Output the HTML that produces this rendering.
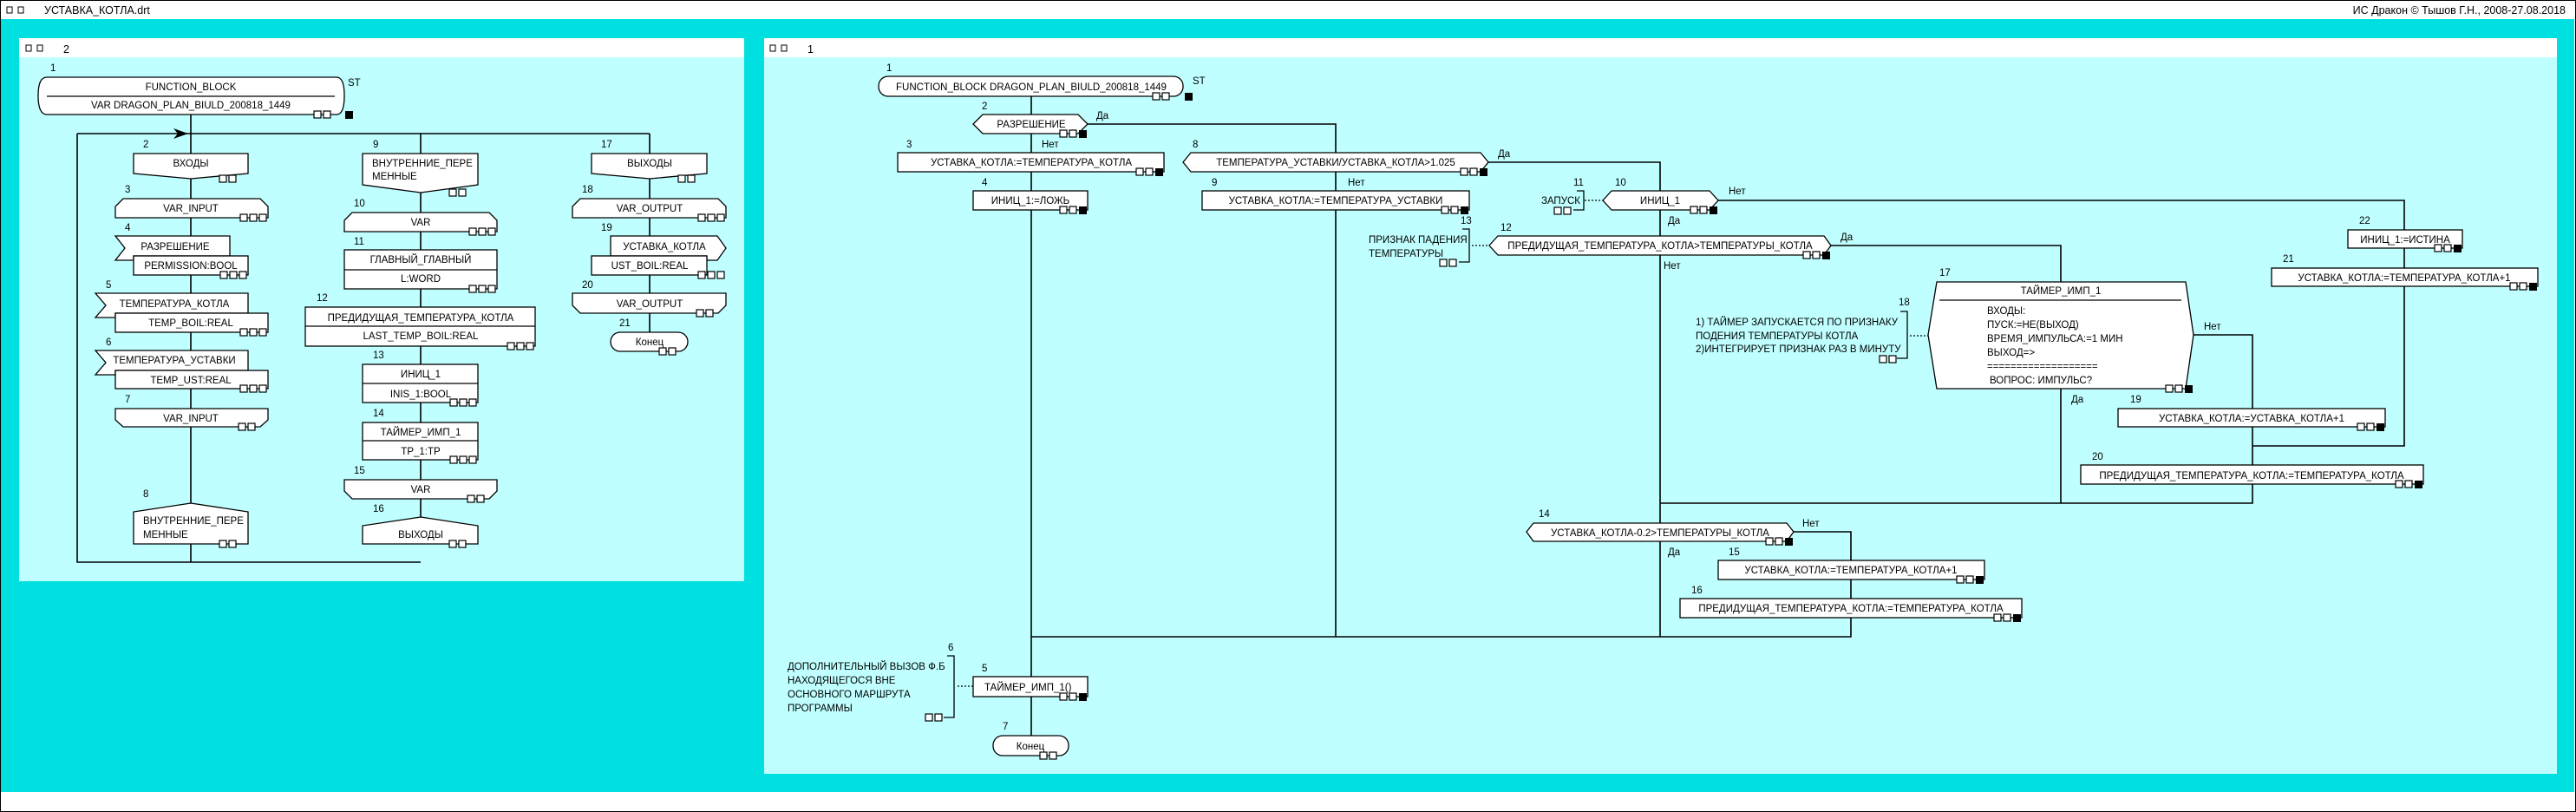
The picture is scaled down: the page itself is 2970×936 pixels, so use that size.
<!DOCTYPE html>
<html><head><meta charset="utf-8"><style>
html,body{margin:0;padding:0;background:#fff}
svg{display:block}
text{font-family:"Liberation Sans","DejaVu Sans",sans-serif;font-size:11.5px;fill:#000}
.t{font-size:12.5px}
.c{text-anchor:middle}
.s{fill:#fff;stroke:#000;stroke-width:1.3}
.l{fill:none;stroke:#000;stroke-width:1.6}
.d{fill:none;stroke:#000;stroke-width:1.3;stroke-dasharray:2 2}
</style></head><body>
<svg width="2970" height="936" viewBox="0 0 2970 936" xmlns="http://www.w3.org/2000/svg">
<defs>
<g id="q3"><rect x="-33" y="-4" width="8" height="8" fill="#fff" stroke="#000" stroke-width="1.2"/><rect x="-22" y="-4" width="8" height="8" fill="#fff" stroke="#000" stroke-width="1.2"/><rect x="-11" y="-4" width="9" height="9" fill="#000"/></g>
<g id="q2"><rect x="-23" y="-4" width="8" height="8" fill="#fff" stroke="#000" stroke-width="1.2"/><rect x="-12" y="-4" width="8" height="8" fill="#fff" stroke="#000" stroke-width="1.2"/></g>
<g id="w3"><rect x="-33" y="-4" width="8" height="8" fill="#fff" stroke="#000" stroke-width="1.2"/><rect x="-22" y="-4" width="8" height="8" fill="#fff" stroke="#000" stroke-width="1.2"/><rect x="-11" y="-4" width="8" height="8" fill="#fff" stroke="#000" stroke-width="1.2"/></g>
</defs>
<rect x="0" y="0" width="2970" height="936" fill="#fff"/>
<rect x="1" y="22" width="2967" height="891" fill="#00E0E0"/>
<rect x="0.5" y="0.5" width="2969" height="935" fill="none" stroke="#000"/>
<rect x="8" y="8" width="6" height="7" fill="none" stroke="#000"/><rect x="21" y="8" width="6" height="7" fill="none" stroke="#000"/>
<text class="t" x="51" y="16">УСТАВКА_КОТЛА.drt</text>
<text class="t" x="2958" y="16" style="text-anchor:end">ИС Дракон © Тышов Г.Н., 2008-27.08.2018</text>

<!-- LEFT PANEL -->
<rect x="22" y="44" width="836" height="626" fill="#C0FFFF"/>
<rect x="22" y="44" width="836" height="22" fill="#fff"/>
<rect x="30" y="52" width="6" height="7" fill="none" stroke="#000"/><rect x="43" y="52" width="6" height="7" fill="none" stroke="#000"/>
<text class="t" x="73" y="61">2</text>

<path class="l" d="M220 132V648M485 154V627M749 154V405M89 154H749M89 154V648H485"/>
<path d="M200 148L217 154L200 160L205 154Z" fill="#000"/>

<text x="58" y="82">1</text>
<path class="s" d="M54 89H388Q397 89 397 110Q397 132 388 132H54Q44 132 44 110Q44 89 54 89Z"/>
<path class="l" d="M54 111H386" style="stroke-width:1.2"/>
<text class="c" x="220" y="104">FUNCTION_BLOCK</text>
<text class="c" x="220" y="125">VAR DRAGON_PLAN_BIULD_200818_1449</text>
<text x="401" y="99">ST</text>
<use href="#q2" x="385" y="132"/><rect x="398" y="128" width="9" height="9" fill="#000"/>

<text x="165" y="170">2</text>
<path class="s" d="M154 177H286V200L220 206L154 200Z"/><text class="c" x="220" y="192">ВХОДЫ</text><use href="#q2" x="276" y="206"/>
<text x="144" y="222">3</text>
<path class="s" d="M142 229H300L309 238V251H133V238Z"/><text class="c" x="220" y="244">VAR_INPUT</text><use href="#w3" x="310" y="251"/>
<text x="144" y="266">4</text>
<path class="s" d="M133 272H265V295H154V300H133L144 286Z"/><rect class="s" x="154" y="295" width="132" height="22"/>
<text class="c" x="202" y="288">РАЗРЕШЕНИЕ</text><text class="c" x="220" y="310">PERMISSION:BOOL</text><use href="#w3" x="287" y="317"/>
<text x="122" y="332">5</text>
<path class="s" d="M110 338H286V361H133V366H110L122 352Z"/><rect class="s" x="133" y="361" width="176" height="22"/>
<text class="c" x="201" y="354">ТЕМПЕРАТУРА_КОТЛА</text><text class="c" x="220" y="376">TEMP_BOIL:REAL</text><use href="#w3" x="310" y="383"/>
<text x="122" y="398">6</text>
<path class="s" d="M110 404H286V427H133V432H110L122 418Z"/><rect class="s" x="133" y="427" width="176" height="21"/>
<text class="c" x="201" y="419">ТЕМПЕРАТУРА_УСТАВКИ</text><text class="c" x="220" y="442">TEMP_UST:REAL</text><use href="#w3" x="310" y="448"/>
<text x="144" y="464">7</text>
<path class="s" d="M133 471H309V484L300 492H142L133 484Z"/><text class="c" x="220" y="486">VAR_INPUT</text><use href="#q2" x="298" y="492"/>
<text x="165" y="573">8</text>
<path class="s" d="M220 580L286 590V627H154V590Z"/><text x="165" y="604">ВНУТРЕННИЕ_ПЕРЕ</text><text x="165" y="620">МЕННЫЕ</text><use href="#q2" x="276" y="627"/>

<text x="430" y="170">9</text>
<path class="s" d="M418 177H551V213L485 222L418 213Z"/><text x="429" y="192">ВНУТРЕННИЕ_ПЕРЕ</text><text x="429" y="207">МЕННЫЕ</text><use href="#q2" x="541" y="222"/>
<text x="408" y="238">10</text>
<path class="s" d="M406 245H564L573 254V267H397V254Z"/><text class="c" x="485" y="260">VAR</text><use href="#w3" x="574" y="267"/>
<text x="408" y="282">11</text>
<rect class="s" x="397" y="288" width="176" height="45"/><path class="l" d="M397 311H573" style="stroke-width:1.2"/>
<text class="c" x="485" y="303">ГЛАВНЫЙ_ГЛАВНЫЙ</text><text class="c" x="485" y="325">L:WORD</text><use href="#w3" x="574" y="333"/>
<text x="365" y="347">12</text>
<rect class="s" x="352" y="354" width="265" height="45"/><path class="l" d="M352 376H617" style="stroke-width:1.2"/>
<text class="c" x="485" y="370">ПРЕДИДУЩАЯ_ТЕМПЕРАТУРА_КОТЛА</text><text class="c" x="485" y="391">LAST_TEMP_BOIL:REAL</text><use href="#w3" x="618" y="399"/>
<text x="430" y="413">13</text>
<rect class="s" x="418" y="420" width="133" height="44"/><path class="l" d="M418 442H551" style="stroke-width:1.2"/>
<text class="c" x="485" y="435">ИНИЦ_1</text><text class="c" x="485" y="458">INIS_1:BOOL</text><use href="#w3" x="552" y="464"/>
<text x="430" y="480">14</text>
<rect class="s" x="418" y="487" width="133" height="43"/><path class="l" d="M418 508H551" style="stroke-width:1.2"/>
<text class="c" x="485" y="502">ТАЙМЕР_ИМП_1</text><text class="c" x="485" y="524">TP_1:TP</text><use href="#w3" x="552" y="530"/>
<text x="408" y="546">15</text>
<path class="s" d="M397 553H573V566L564 575H406L397 566Z"/><text class="c" x="485" y="568">VAR</text><use href="#q2" x="562" y="575"/>
<text x="430" y="590">16</text>
<path class="s" d="M485 596L551 606V627H418V606Z"/><text class="c" x="485" y="620">ВЫХОДЫ</text><use href="#q2" x="541" y="627"/>

<text x="693" y="170">17</text>
<path class="s" d="M682 177H815V200L749 206L682 200Z"/><text class="c" x="749" y="192">ВЫХОДЫ</text><use href="#q2" x="805" y="206"/>
<text x="671" y="222">18</text>
<path class="s" d="M669 229H828L837 238V251H660V238Z"/><text class="c" x="749" y="244">VAR_OUTPUT</text><use href="#w3" x="838" y="251"/>
<text x="693" y="266">19</text>
<path class="s" d="M704 272H827L837 286L827 300H815V295H704Z"/><rect class="s" x="682" y="295" width="133" height="22"/>
<text class="c" x="766" y="288">УСТАВКА_КОТЛА</text><text class="c" x="749" y="310">UST_BOIL:REAL</text><use href="#w3" x="838" y="317"/>
<text x="671" y="332">20</text>
<path class="s" d="M660 338H837V352L828 361H669L660 352Z"/><text class="c" x="749" y="354">VAR_OUTPUT</text><use href="#q2" x="826" y="361"/>
<text x="714" y="376">21</text>
<rect class="s" x="704" y="383" width="89" height="22" rx="11"/><text class="c" x="749" y="398">Конец</text><use href="#q2" x="783" y="405"/>

<!-- RIGHT PANEL -->
<rect x="881" y="44" width="2067" height="848" fill="#C0FFFF"/>
<rect x="881" y="44" width="2067" height="22" fill="#fff"/>
<rect x="888" y="52" width="6" height="7" fill="none" stroke="#000"/><rect x="901" y="52" width="6" height="7" fill="none" stroke="#000"/>
<text class="t" x="931" y="61">1</text>

<path class="l" d="M1189 111V848M1254 143H1540V734M1716 187H1914V734M1981 231H2772V514H2597M2111 283H2376V580M2529 386H2597V580H1914M2068 613H2134V734H1189"/>
<path class="d" d="M1827 231H1848M1697 283H1717M2202 387H2223M1104 791H1122"/>

<text x="1022" y="82">1</text>
<rect class="s" x="1013" y="88" width="351" height="23" rx="11"/>
<text class="c" x="1189" y="104">FUNCTION_BLOCK DRAGON_PLAN_BIULD_200818_1449</text>
<text x="1375" y="97">ST</text><use href="#q2" x="1352" y="111"/><rect x="1366" y="107" width="9" height="9" fill="#000"/>

<text x="1132" y="126">2</text>
<path class="s" d="M1122 143L1133 132H1243L1254 143L1243 154H1133Z"/><text class="c" x="1189" y="147">РАЗРЕШЕНИЕ</text><use href="#q3" x="1255" y="154"/>
<text x="1264" y="137">Да</text><text x="1201" y="170">Нет</text>
<text x="1045" y="170">3</text>
<rect class="s" x="1035" y="176" width="307" height="22"/><text class="c" x="1189" y="191">УСТАВКА_КОТЛА:=ТЕМПЕРАТУРА_КОТЛА</text><use href="#q3" x="1343" y="198"/>
<text x="1132" y="214">4</text>
<rect class="s" x="1122" y="220" width="132" height="22"/><text class="c" x="1188" y="235">ИНИЦ_1:=ЛОЖЬ</text><use href="#q3" x="1255" y="242"/>

<text x="1375" y="170">8</text>
<path class="s" d="M1364 187L1373 176H1707L1716 187L1707 198H1373Z"/><text class="c" x="1540" y="191">ТЕМПЕРАТУРА_УСТАВКИ/УСТАВКА_КОТЛА&gt;1.025</text><use href="#q3" x="1717" y="198"/>
<text x="1727" y="181">Да</text><text x="1554" y="214">Нет</text>
<text x="1397" y="214">9</text>
<rect class="s" x="1386" y="220" width="308" height="22"/><text class="c" x="1540" y="235">УСТАВКА_КОТЛА:=ТЕМПЕРАТУРА_УСТАВКИ</text><use href="#q3" x="1695" y="242"/>

<text x="1814" y="214">11</text><text x="1822" y="235" style="text-anchor:end">ЗАПУСК</text>
<path class="l" d="M1818 220H1826V242H1814" style="stroke-width:1.3"/><use href="#q2" x="1815" y="243"/>
<text x="1862" y="214">10</text>
<path class="s" d="M1848 231L1858 220H1971L1981 231L1971 242H1858Z"/><text class="c" x="1914" y="235">ИНИЦ_1</text><use href="#q3" x="1982" y="242"/>
<text x="1993" y="224">Нет</text><text x="1923" y="258">Да</text>

<text x="1684" y="258">13</text>
<text x="1578" y="280">ПРИЗНАК ПАДЕНИЯ</text><text x="1578" y="296">ТЕМПЕРАТУРЫ</text>
<path class="l" d="M1686 264H1694V302H1682" style="stroke-width:1.3"/><use href="#q2" x="1683" y="303"/>
<text x="1730" y="266">12</text>
<path class="s" d="M1717 283L1727 272H2103L2111 283L2103 294H1727Z"/><text class="c" x="1914" y="287">ПРЕДИДУЩАЯ_ТЕМПЕРАТУРА_КОТЛА&gt;ТЕМПЕРАТУРЫ_КОТЛА</text><use href="#q3" x="2112" y="294"/>
<text x="2122" y="277">Да</text><text x="1918" y="310">Нет</text>

<text x="2720" y="258">22</text>
<rect class="s" x="2707" y="265" width="132" height="21"/><text class="c" x="2773" y="280">ИНИЦ_1:=ИСТИНА</text><use href="#q3" x="2840" y="286"/>
<text x="2632" y="302">21</text>
<rect class="s" x="2619" y="309" width="307" height="21"/><text class="c" x="2772" y="324">УСТАВКА_КОТЛА:=ТЕМПЕРАТУРА_КОТЛА+1</text><use href="#q3" x="2927" y="330"/>

<text x="2236" y="318">17</text>
<path class="s" d="M2233 325H2520L2529 386L2520 448H2233L2223 386Z"/>
<path class="l" d="M2236 346H2515" style="stroke-width:1.2"/>
<text class="c" x="2376" y="339">ТАЙМЕР_ИМП_1</text>
<text x="2291" y="362">ВХОДЫ:</text><text x="2291" y="378">ПУСК:=НЕ(ВЫХОД)</text><text x="2291" y="394">ВРЕМЯ_ИМПУЛЬСА:=1 МИН</text><text x="2291" y="410">ВЫХОД=&gt;</text><text x="2291" y="426">===================</text><text x="2294" y="442">ВОПРОС: ИМПУЛЬС?</text>
<use href="#q3" x="2530" y="448"/>
<text x="2541" y="380">Нет</text><text x="2388" y="464">Да</text>
<text x="2189" y="352">18</text>
<text x="1955" y="375">1) ТАЙМЕР  ЗАПУСКАЕТСЯ ПО ПРИЗНАКУ</text><text x="1955" y="391">ПОДЕНИЯ ТЕМПЕРАТУРЫ КОТЛА</text><text x="1955" y="406">2)ИНТЕГРИРУЕТ ПРИЗНАК РАЗ В МИНУТУ</text>
<path class="l" d="M2191 359H2199V413H2187" style="stroke-width:1.3"/><use href="#q2" x="2190" y="414"/>

<text x="2456" y="464">19</text>
<rect class="s" x="2442" y="471" width="308" height="21"/><text class="c" x="2596" y="486">УСТАВКА_КОТЛА:=УСТАВКА_КОТЛА+1</text><use href="#q3" x="2751" y="492"/>
<text x="2412" y="530">20</text>
<rect class="s" x="2399" y="536" width="395" height="22"/><text class="c" x="2596" y="552">ПРЕДИДУЩАЯ_ТЕМПЕРАТУРА_КОТЛА:=ТЕМПЕРАТУРА_КОТЛА</text><use href="#q3" x="2795" y="558"/>

<text x="1774" y="596">14</text>
<path class="s" d="M1760 613L1768 603H2060L2068 613L2060 624H1768Z"/><text class="c" x="1914" y="618">УСТАВКА_КОТЛА-0.2&gt;ТЕМПЕРАТУРЫ_КОТЛА</text><use href="#q3" x="2069" y="624"/>
<text x="2078" y="607">Нет</text><text x="1923" y="640">Да</text>
<text x="1993" y="640">15</text>
<rect class="s" x="1981" y="646" width="307" height="22"/><text class="c" x="2134" y="661">УСТАВКА_КОТЛА:=ТЕМПЕРАТУРА_КОТЛА+1</text><use href="#q3" x="2289" y="668"/>
<text x="1950" y="684">16</text>
<rect class="s" x="1937" y="690" width="394" height="22"/><text class="c" x="2134" y="705">ПРЕДИДУЩАЯ_ТЕМПЕРАТУРА_КОТЛА:=ТЕМПЕРАТУРА_КОТЛА</text><use href="#q3" x="2332" y="712"/>

<text x="1093" y="750">6</text>
<text x="908" y="772">ДОПОЛНИТЕЛЬНЫЙ ВЫЗОВ Ф.Б</text><text x="908" y="788">НАХОДЯЩЕГОСЯ ВНЕ</text><text x="908" y="804">ОСНОВНОГО МАРШРУТА</text><text x="908" y="820">ПРОГРАММЫ</text>
<path class="l" d="M1092 756H1100V827H1088" style="stroke-width:1.3"/><use href="#q2" x="1090" y="827"/>
<text x="1132" y="774">5</text>
<rect class="s" x="1122" y="780" width="132" height="23"/><text x="1135" y="796">ТАЙМЕР_ИМП_1()</text><use href="#q3" x="1255" y="803"/>
<text x="1156" y="841">7</text>
<rect class="s" x="1145" y="848" width="87" height="23" rx="11"/><text class="c" x="1188" y="864">Конец</text><use href="#q2" x="1222" y="871"/>
</svg>
</body></html>
